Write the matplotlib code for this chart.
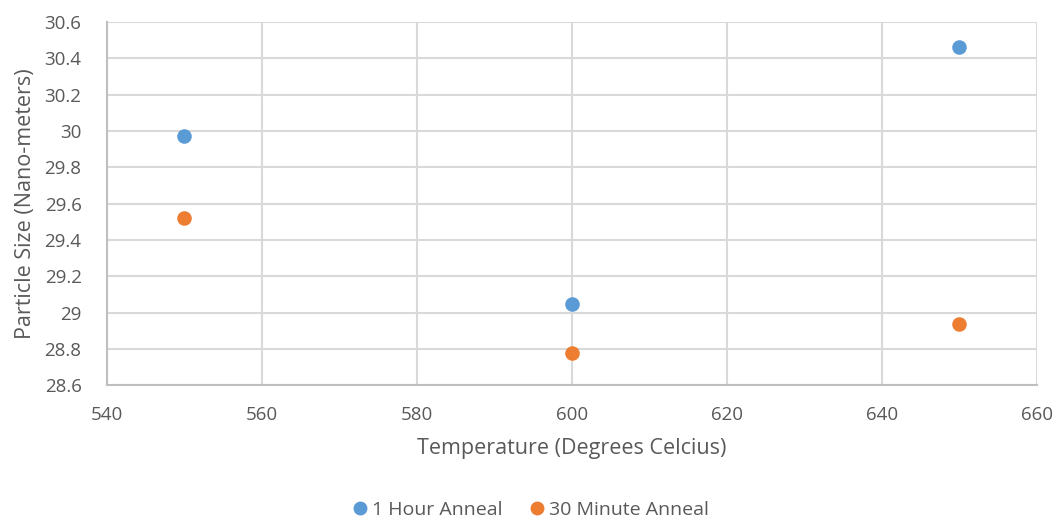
import matplotlib
matplotlib.use("Agg")
import matplotlib.pyplot as plt
from matplotlib.lines import Line2D

temperatures = [550, 600, 650]
one_hour = [29.97, 29.05, 30.46]
thirty_min = [29.52, 28.78, 28.94]
series_names = ["1 Hour Anneal", "30 Minute Anneal"]
x_ticks = [540, 560, 580, 600, 620, 640, 660]
y_ticks = [28.6, 28.8, 29.0, 29.2, 29.4, 29.6, 29.8, 30.0, 30.2, 30.4, 30.6]
y_tick_labels = ["28.6", "28.8", "29", "29.2", "29.4", "29.6", "29.8", "30", "30.2", "30.4", "30.6"]

plt.rcParams['font.family'] = ['Open Sans', 'DejaVu Sans']
text_color = "#595959"
blue = "#5B9BD5"
orange = "#ED7D31"

fig = plt.figure(figsize=(10.59, 5.22), dpi=100)
ax = fig.add_axes([0.1006, 0.2615, 0.8784, 0.6964])

ax.scatter(temperatures, one_hour, s=110, color=blue, zorder=3, label=series_names[0], linewidths=0)
ax.scatter(temperatures, thirty_min, s=110, color=orange, zorder=3, label=series_names[1], linewidths=0)

ax.set_xlim(540, 660)
ax.set_ylim(28.6, 30.6)
ax.set_xticks(x_ticks)
ax.set_yticks(y_ticks)
ax.set_yticklabels(y_tick_labels)
ax.grid(True, color="#D9D9D9", linewidth=1.5, zorder=0)
ax.set_axisbelow(True)
for s in ["top", "right"]:
    ax.spines[s].set_visible(False)
for s in ["left", "bottom"]:
    ax.spines[s].set_color("#BFBFBF")
    ax.spines[s].set_linewidth(1.5)
ax.tick_params(length=0, labelsize=13.5, labelcolor=text_color)
ax.tick_params(axis='x', pad=15)
ax.tick_params(axis='y', pad=18)

ax.set_xlabel("Temperature (Degrees Celcius)", fontsize=15.5, color=text_color, labelpad=10)
ax.set_ylabel("Particle Size (Nano-meters)", fontsize=15.5, color=text_color, labelpad=6)

leg = fig.legend(handles=[
    Line2D([], [], marker='o', linestyle='none', markersize=10, color=blue, markeredgewidth=0),
    Line2D([], [], marker='o', linestyle='none', markersize=10, color=orange, markeredgewidth=0)],
    labels=series_names, loc='center', bbox_to_anchor=(0.5, 0.023), ncol=2, frameon=False,
    fontsize=14, handletextpad=0.1, columnspacing=1.3, handlelength=1.0)
for t in leg.get_texts():
    t.set_color(text_color)

fig.savefig("out.png", dpi=100)
